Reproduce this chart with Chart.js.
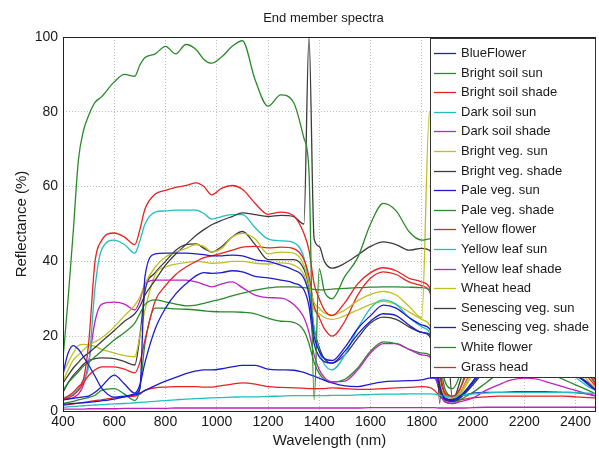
<!DOCTYPE html>
<html>
<head>
<meta charset="utf-8">
<script src="https://cdn.jsdelivr.net/npm/chart.js@4.4.1/dist/chart.umd.min.js"></script>
<style>
  html, body { margin: 0; padding: 0; background: #fff; }
  canvas { display: block; }
</style>
</head>
<body>
<canvas id="spectraChart" width="599" height="455"></canvas>
<script>
// Longitudes de onda (nm)
const wavelengths = [400, 420, 440, 460, 480, 500, 525, 550, 600, 640,
  680, 700, 720, 760, 800, 840, 880, 920, 950, 980,
  1020, 1060, 1100, 1150, 1200, 1250, 1300, 1340, 1360, 1380,
  1400, 1420, 1450, 1500, 1550, 1600, 1650, 1700, 1750, 1800,
  1830, 1850, 1870, 1890, 1920, 1950, 2000, 2050, 2100, 2150,
  2200, 2250, 2300, 2350, 2400, 2450, 2480];

const xTicks = [400, 600, 800, 1000, 1200, 1400, 1600, 1800, 2000, 2200, 2400];
const yTicks = [0, 20, 40, 60, 80, 100];

// Reflectancia (%) de cada espectro
const blueFlower = [10, 15.5, 17.5, 16.5, 14.5, 12.3, 9.3, 6.2, 3.7, 4,
  4.5, 6, 36, 42, 42.2, 42.2, 42.2, 42, 41.8, 41.5,
  41.5, 41.7, 41.5, 40.4, 40, 39, 37.7, 35.5, 31, 20,
  16, 14, 13.5, 17, 22, 25.5, 28.3, 27.5, 25, 23,
  22, 17, 7, 3.5, 3, 4, 8, 12.5, 15, 16.5,
  17, 16.5, 15, 12.5, 10, 7, 5.5];
const brightSoilSun = [14, 30, 48, 67, 75, 79, 82.5, 84, 88, 90,
  89.5, 92.5, 94.5, 95.5, 97.5, 95.5, 98, 96.6, 94, 93,
  94.7, 97.5, 99, 88.5, 81.5, 84.5, 82.5, 73, 64, 3,
  38, 32, 30, 36, 41, 50, 55.5, 53.5, 48, 45.7,
  46, 40, 20, 8, 6, 10, 25, 38, 45, 48,
  49, 47, 44, 38, 30, 18, 10];
const brightSoilShade = [3, 4, 5, 6.5, 8.5, 18, 40, 45.5, 47.6, 46.5,
  44.5, 48.5, 54, 58, 59, 59.8, 60.3, 61, 60, 57.8,
  59.6, 60.3, 59.3, 55.5, 52.6, 53.2, 52.2, 47.5, 43, 34,
  30, 27, 25.5, 29, 34, 37, 38.3, 37.5, 35.5, 34.5,
  33, 28, 12, 5, 4, 6, 15, 24, 28, 30,
  30.5, 29, 27, 22, 17, 11, 7];
const darkSoilSun = [1, 1.1, 1.2, 1.3, 1.4, 1.5, 1.6, 1.7, 1.9, 2,
  2.2, 2.3, 2.4, 2.6, 2.8, 3, 3.2, 3.3, 3.4, 3.5,
  3.6, 3.7, 3.8, 3.8, 3.9, 4, 4.1, 4.1, 4.1, 4.1,
  4.1, 4.1, 4.2, 4.2, 4.3, 4.4, 4.5, 4.5, 4.6, 4.6,
  4.6, 4.5, 4.2, 4, 4, 4.2, 4.6, 4.8, 5, 5,
  5, 5, 5, 5, 4.9, 4.8, 4.7];
const darkSoilShade = [0.5, 0.5, 0.5, 0.5, 0.5, 0.6, 0.6, 0.6, 0.6, 0.7,
  0.7, 0.7, 0.7, 0.7, 0.7, 0.8, 0.8, 0.8, 0.8, 0.8,
  0.8, 0.8, 0.8, 0.8, 0.8, 0.8, 0.8, 0.8, 0.8, 0.8,
  0.8, 0.8, 0.8, 0.8, 0.8, 0.9, 0.9, 0.9, 0.9, 0.9,
  0.9, 0.9, 0.8, 0.8, 0.8, 0.8, 0.9, 1, 1, 1,
  1, 1, 1, 1, 1, 1, 1];
const brightVegSun = [8, 11, 13.6, 15, 16.3, 17.5, 18.5, 19.5, 22.5, 25.5,
  28.3, 30.5, 34, 38.5, 41.2, 42.5, 43.5, 44.5, 44, 42.5,
  43.5, 46.5, 47.5, 46, 42, 42.5, 42.2, 39, 34, 29,
  27.5, 26.2, 25.7, 27, 29.5, 31.2, 32, 31, 28, 25,
  80, 20, 8, 4, 3.5, 5, 11, 17, 20, 22,
  22.5, 21.5, 19.5, 16, 12, 8, 6];
const brightVegShade = [7.5, 9.5, 11.5, 13, 14.5, 15.5, 17, 18.5, 21.5, 24,
  26, 28, 31, 35, 39, 42, 44.5, 47, 48.5, 49.8,
  51, 52, 53, 52.5, 52, 52.3, 52, 50, 100, 46,
  44, 40, 38.2, 39.5, 41.7, 44, 45.2, 44.5, 43, 43.5,
  43, 35, 2, 30, 3, 8, 20, 30, 34, 36,
  36, 34, 31, 26, 20, 12, 8];
const paleVegSun = [3, 3.2, 3.4, 3.6, 3.8, 4, 5, 6.5, 9.6, 7.2,
  4.8, 7, 13, 22, 27.5, 31.3, 34, 36.2, 37, 36.8,
  37, 37.5, 37.2, 36, 35.6, 35, 34.2, 32.4, 28, 18,
  14.5, 13.2, 12.8, 16, 20.5, 24, 26, 25.5, 23, 21,
  20.5, 16, 6.5, 3.2, 2.8, 3.8, 7.5, 11.5, 14, 15.5,
  16, 15.5, 14, 12, 9.6, 7.5, 5.5];
const paleVegShade = [5.5, 7.5, 9, 10.5, 12, 13, 14.5, 16, 19, 21,
  23.5, 26, 28.5, 29.7, 29.2, 28.6, 28.1, 28.3, 28.8, 29.3,
  30, 30.8, 31.5, 32.3, 32.9, 33.2, 33.2, 33, 32.8, 32.5,
  32.4, 32.4, 32.6, 32.8, 33, 33.1, 33.2, 33.2, 33.1, 33,
  32.5, 30, 15, 6, 4, 6, 18, 26, 30, 32,
  32, 30, 27, 22, 16, 10, 7];
const yellowFlower = [3, 3.5, 4.2, 5.5, 7.5, 9.5, 11, 11.8, 11.8, 11.2,
  10.2, 13, 19, 29.5, 33.5, 36.5, 38.5, 40, 41, 41.5,
  42.2, 43, 43.8, 44, 43.6, 43.8, 43.4, 40.5, 36, 28,
  25, 22, 20, 24, 31, 35.5, 37.2, 36.5, 34.5, 33.5,
  32, 26, 10, 4.5, 3.5, 5, 12, 20, 24, 26,
  26.5, 25.5, 23, 19, 14, 9, 6.5];
const yellowLeafSun = [3.5, 4, 4.5, 6, 8.5, 12, 33, 43, 45.7, 44.5,
  42.2, 45.5, 50, 53.2, 53.5, 53.7, 53.7, 53.7, 52.8, 51.3,
  52, 52.5, 52.5, 49, 46, 45.5, 45, 41, 34, 22,
  16, 12.5, 11, 15, 22, 27.5, 29.7, 28.5, 25, 22.5,
  21, 16, 7, 3.5, 3, 4, 8, 13, 16, 17.5,
  18, 17, 15, 12, 9, 6.5, 5.5];
const yellowLeafShade = [3, 3.2, 3.6, 4.5, 7, 13, 24, 28.5, 29.1, 28.6,
  27, 29.5, 34, 35, 35, 35, 35, 34.5, 33.8, 33.2,
  34, 34.5, 33, 31, 30.3, 30.2, 28.5, 25, 21, 15,
  11, 9, 7.8, 8, 11, 15.5, 18, 18, 16.5, 15,
  14.5, 11, 5, 2.5, 2, 2.5, 3.5, 5.5, 7, 8.3,
  8.8, 8.5, 7.5, 6.5, 5.5, 4.5, 4];
const wheatHead = [10, 13, 15.5, 17.5, 17.8, 17.7, 17.3, 16.5, 15.5, 14.8,
  14.5, 20, 27, 36.5, 38.5, 39.3, 39.7, 40, 39.8, 39.5,
  39.6, 40, 40, 39.5, 39.3, 39.6, 39, 36.5, 32, 27,
  26, 25, 24.5, 25.5, 27, 28.5, 29.3, 28.5, 26.5, 24.5,
  23, 18, 7, 3.5, 3, 4.5, 10, 15, 18, 19.5,
  20, 19, 17, 14, 10.5, 7.5, 5.8];
const senescingVegSun = [5, 7.5, 9.5, 11, 12.5, 13.5, 14, 14.2, 14, 13.2,
  12.3, 20, 32, 37, 40, 43, 44.5, 44.7, 43.5, 42.5,
  44, 46.5, 48, 44.5, 40.5, 40.5, 40.5, 38, 33, 22,
  17, 14, 12.8, 15, 19.5, 23.5, 25.1, 24.5, 22.5, 21,
  20, 15, 6, 3, 2.5, 3.5, 7, 11, 13.5, 15,
  15.5, 15, 13.5, 11.5, 9.5, 7.5, 6];
const senescingVegShade = [1.8, 1.9, 2, 2.1, 2.2, 2.3, 2.5, 2.7, 3.2, 3.8,
  4.3, 4.8, 5.5, 6.8, 8, 9, 10, 10.7, 11, 11,
  11.3, 11.8, 12.2, 12.2, 11.2, 11, 10.9, 10.3, 9.8, 9.3,
  8.8, 8.2, 7.5, 6.7, 6.5, 7.2, 7.8, 8, 8.1, 8.3,
  8.8, 8.8, 6, 4, 3.5, 4, 4.8, 5, 5, 5.1,
  5.2, 5.2, 5.1, 5, 4.9, 4.5, 4];
const whiteFlower = [2, 2.3, 2.6, 3, 3.3, 3.6, 4.2, 5.5, 6, 4.5,
  2.8, 6, 18, 27.5, 27.5, 27.3, 27.2, 27, 26.8, 26.6,
  26.5, 26.5, 26.4, 26, 24.8, 24, 23.7, 21.5, 18, 13,
  10, 8.5, 7.8, 8.5, 11.5, 16, 18.5, 18, 16.5, 15.5,
  15, 11, 5, 2.5, 2, 3, 5, 7.5, 10, 11,
  11.5, 11, 10, 8.5, 7, 5.5, 4.5];
const grassHead = [1.5, 1.7, 1.9, 2.1, 2.3, 2.5, 2.8, 3, 3.5, 3.8,
  4, 4.5, 5.5, 6.2, 6.4, 6.5, 6.5, 6.5, 6.4, 6.4,
  6.8, 7.2, 7.5, 7.2, 6.5, 6.3, 6.2, 6.1, 6, 6,
  6, 6, 6.2, 6, 5.8, 5.8, 6, 6.2, 6.3, 6.5,
  6.3, 5.5, 4, 3, 2.8, 3, 3.5, 3.8, 4, 4,
  4, 4, 4, 4, 3.8, 3.6, 3.5];

const seriesNames = ['BlueFlower', 'Bright soil sun', 'Bright soil shade', 'Dark soil sun',
  'Dark soil shade', 'Bright veg. sun', 'Bright veg. shade', 'Pale veg. sun',
  'Pale veg. shade', 'Yellow flower', 'Yellow leaf sun', 'Yellow leaf shade',
  'Wheat head', 'Senescing veg. sun', 'Senescing veg. shade', 'White flower', 'Grass head'];
const seriesValues = [blueFlower, brightSoilSun, brightSoilShade, darkSoilSun,
  darkSoilShade, brightVegSun, brightVegShade, paleVegSun,
  paleVegShade, yellowFlower, yellowLeafSun, yellowLeafShade,
  wheatHead, senescingVegSun, senescingVegShade, whiteFlower, grassHead];

// Colores estilo MATLAB (b g r c m y k)
const palette = ['#1c1cd0', '#2a8a2a', '#e82222', '#1fbfbf', '#bf22bf', '#bfbf1f', '#3c3c3c'];

const FONT = '"Liberation Sans", Arial, Helvetica, sans-serif';

const datasets = seriesNames.map((name, i) => ({
  label: name,
  data: wavelengths.map((w, j) => ({ x: w, y: seriesValues[i][j] })),
  borderColor: palette[i % palette.length],
  borderWidth: 1.3,
  pointRadius: 0,
  fill: false,
  cubicInterpolationMode: 'monotone'
}));

// Marco, leyenda y títulos dibujados a mano
const framePlugin = {
  id: 'frame',
  afterDraw(chart) {
    const c = chart.ctx;
    const a = chart.chartArea;
    c.save();
    c.strokeStyle = '#222';
    c.lineWidth = 1;
    c.strokeRect(a.left + 0.5, a.top + 0.5, a.right - a.left - 1, a.bottom - a.top);

    // leyenda
    const lx = 430, ly = 38, lw = a.right - 430, lh = 339;
    c.fillStyle = '#fff';
    c.fillRect(lx, ly, lw, lh);
    c.strokeStyle = '#333';
    c.strokeRect(lx + 0.5, ly + 0.5, lw - 1, lh);
    c.font = '13px ' + FONT;
    c.textBaseline = 'middle';
    c.textAlign = 'left';
    chart.data.datasets.forEach((ds, i) => {
      const y = Math.round(53 + i * 19.6) + 0.5;
      c.strokeStyle = ds.borderColor;
      c.lineWidth = 1.3;
      c.beginPath();
      c.moveTo(434, y);
      c.lineTo(456, y);
      c.stroke();
      c.fillStyle = '#1a1a1a';
      c.fillText(ds.label, 461, y);
    });

    // títulos
    const cx = (a.left + a.right) / 2;
    c.fillStyle = '#1a1a1a';
    c.textAlign = 'center';
    c.font = '13px ' + FONT;
    c.fillText('End member spectra', cx - 6, 18);
    c.font = '15px ' + FONT;
    c.fillText('Wavelength (nm)', cx, 441);
    c.translate(22, (a.top + a.bottom) / 2);
    c.rotate(-Math.PI / 2);
    c.fillText('Reflectance (%)', 0, 0);
    c.restore();
  }
};

new Chart(document.getElementById('spectraChart').getContext('2d'), {
  type: 'line',
  data: { datasets: datasets },
  options: {
    responsive: false,
    animation: false,
    devicePixelRatio: 1,
    layout: { padding: { top: 37, right: 3, left: 0, bottom: 0 } },
    plugins: {
      legend: { display: false },
      tooltip: { enabled: false },
      title: { display: false }
    },
    scales: {
      x: {
        type: 'linear',
        min: 400,
        max: 2480,
        afterBuildTicks: (scale) => {
          scale.ticks = xTicks.map(v => ({ value: v }));
        },
        afterFit: (scale) => { scale.height = 44; },
        grid: { color: '#bdbdbd', drawTicks: false },
        border: { display: false, dash: [1, 2] },
        ticks: {
          font: { family: FONT, size: 14 }, color: '#1a1a1a', padding: 3,
          maxRotation: 0, autoSkip: false,
          callback: (value) => String(value)
        }
      },
      y: {
        min: 0,
        max: 100,
        afterBuildTicks: (scale) => {
          scale.ticks = yTicks.map(v => ({ value: v }));
        },
        afterFit: (scale) => { scale.width = 63; },
        grid: { color: '#bdbdbd', drawTicks: false },
        border: { display: false, dash: [1, 2] },
        ticks: {
          font: { family: FONT, size: 14 }, color: '#1a1a1a', padding: 5,
          callback: (value) => String(value)
        }
      }
    }
  },
  plugins: [framePlugin]
});
</script>
</body>
</html>
